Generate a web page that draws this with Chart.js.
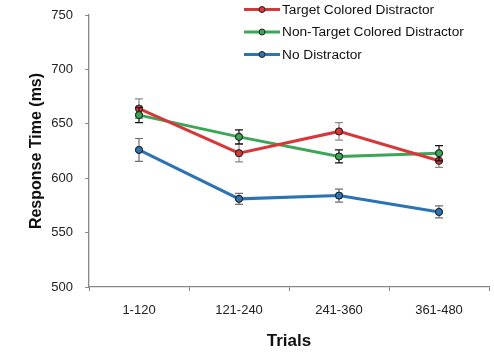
<!DOCTYPE html>
<html>
<head>
<meta charset="utf-8">
<script src="https://cdn.jsdelivr.net/npm/chart.js@4"></script>
<style>
  html, body { margin: 0; padding: 0; background: #fff; }
  #wrap { width: 494px; height: 353px; position: relative; }
</style>
</head>
<body>
<div id="wrap"><canvas id="chart" width="494" height="353"></canvas></div>
<script>
const trials = ["1-120", "121-240", "241-360", "361-480"];
const seriesNames = ["Target Colored Distractor", "Non-Target Colored Distractor", "No Distractor"];
const targetColored = [664, 623, 643, 616];
const nonTargetColored = [658, 638, 620, 623];
const noDistractor = [626, 581, 584, 569];
const targetErr = [9, 8, 8, 6];
const nonTargetErr = [7, 6.5, 6, 7];
const noDistractorErr = [10.5, 5, 6, 5.5];
const yTicks = [500, 550, 600, 650, 700, 750];

const lineColors = ["#d8373a", "#3ba655", "#2c73b4"];
const errColors = ["#8a8a8a", "#111111", "#6e6e6e"];

const font = "'Liberation Sans', Arial, sans-serif";

// Error bars, drawn under the points
const errorBars = {
    id: "errorBars",
    afterDatasetsDraw(chart) {
        const ctx = chart.ctx;
        const y = chart.scales.y;
        chart.data.datasets.forEach((ds, i) => {
            const meta = chart.getDatasetMeta(i);
            ctx.save();
            ctx.strokeStyle = errColors[i];
            ctx.lineWidth = 1.2;
            meta.data.forEach((pt, j) => {
                const top = y.getPixelForValue(ds.data[j] + ds.err[j]);
                const bot = y.getPixelForValue(ds.data[j] - ds.err[j]);
                ctx.beginPath();
                ctx.moveTo(pt.x, top); ctx.lineTo(pt.x, bot);
                ctx.moveTo(pt.x - 4, top); ctx.lineTo(pt.x + 4, top);
                ctx.moveTo(pt.x - 4, bot); ctx.lineTo(pt.x + 4, bot);
                ctx.stroke();
            });
            ctx.restore();
            // redraw points on top of the bars
            meta.data.forEach(pt => pt.draw(ctx, chart.chartArea));
        });
    }
};

// Legend in the top right corner
const lineLegend = {
    id: "lineLegend",
    afterDraw(chart) {
        const ctx = chart.ctx;
        ctx.save();
        chart.data.datasets.forEach((ds, i) => {
            const yy = 9.5 + i * 22.5;
            ctx.strokeStyle = lineColors[i];
            ctx.lineWidth = 3;
            ctx.beginPath();
            ctx.moveTo(244, yy); ctx.lineTo(280, yy);
            ctx.stroke();
            ctx.beginPath();
            ctx.arc(262, yy, 3, 0, Math.PI * 2);
            ctx.fillStyle = lineColors[i];
            ctx.fill();
            ctx.strokeStyle = "#222";
            ctx.lineWidth = 1;
            ctx.stroke();
            ctx.fillStyle = "#111";
            ctx.font = "13.7px " + font;
            ctx.textBaseline = "middle";
            ctx.fillText(ds.label, 282, yy + 0.5);
        });
        ctx.restore();
    }
};

const values = [targetColored, nonTargetColored, noDistractor];
const errs = [targetErr, nonTargetErr, noDistractorErr];

new Chart(document.getElementById("chart"), {
    type: "line",
    data: {
        labels: trials,
        datasets: seriesNames.map((name, i) => ({
            label: name,
            data: values[i],
            err: errs[i],
            borderColor: lineColors[i],
            backgroundColor: lineColors[i],
            borderWidth: 3,
            pointRadius: 3.5,
            pointBorderColor: "#222",
            pointBorderWidth: 1,
            tension: 0
        }))
    },
    options: {
        responsive: false,
        animation: false,
        layout: { padding: { top: 15, right: 5, left: 0, bottom: 0 } },
        plugins: { legend: { display: false }, tooltip: { enabled: false } },
        scales: {
            x: {
                offset: true,
                grid: { offset: true, drawOnChartArea: false, tickLength: 4, color: "#888", lineWidth: 1 },
                border: { color: "#888", width: 1.3 },
                ticks: { color: "#222", font: { family: font, size: 13 }, padding: 12, maxRotation: 0 },
                title: { display: true, text: "Trials", color: "#111", font: { family: font, size: 17, weight: "bold" }, padding: { top: 0, bottom: 1 } },
                afterFit(scale) { scale.height = 66; }
            },
            y: {
                min: 500,
                max: 750,
                afterBuildTicks(scale) { scale.ticks = yTicks.map(v => ({ value: v })); },
                grid: { drawOnChartArea: false, tickLength: 4, color: "#888", lineWidth: 1 },
                border: { color: "#888", width: 1.3 },
                ticks: { color: "#222", font: { family: font, size: 13 }, padding: 12 },
                title: { display: true, text: "Response Time (ms)", color: "#111", font: { family: font, size: 16, weight: "bold" }, padding: { top: 27, bottom: 0 } },
                afterFit(scale) {
                    scale.width = 89;
                    scale.paddingTop = 0;
                    scale.paddingBottom = 0;
                }
            }
        }
    },
    plugins: [errorBars, lineLegend]
});
</script>
</body>
</html>
